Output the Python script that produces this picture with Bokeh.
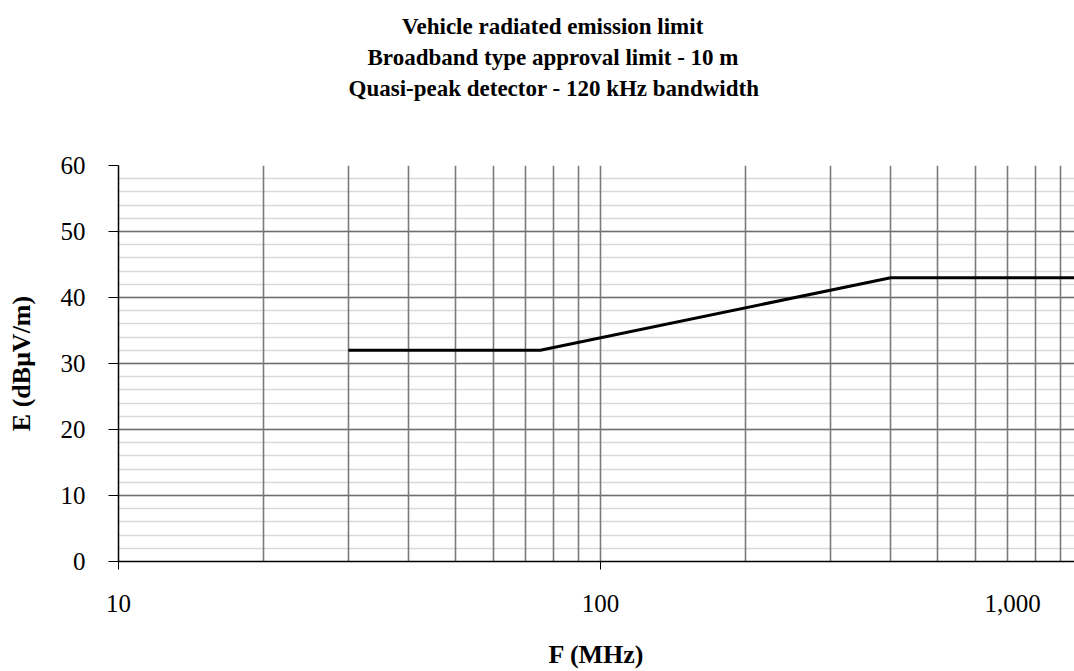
from bokeh.plotting import figure
from bokeh.models import (Range1d, FixedTicker, SingleIntervalTicker, Title, LogAxis)
from bokeh.embed import file_html
from bokeh.resources import INLINE

# ---- data ----
freq_mhz = [30, 75, 400, 1000]
limit_dbuv = [32, 32, 43, 43]
x_major_ticks = [10, 100]
x_label_positions = [10, 100, 716]      # 1,000 label sits left of its (off-frame) tick
x_tick_labels = {10: "10", 100: "100", 716: "1,000"}
x_grid_lines = [20, 30, 40, 50, 60, 70, 80, 90, 100,
                200, 300, 400, 500, 600, 700, 800, 900]
y_ticks = [0, 10, 20, 30, 40, 50, 60]
title_lines = ["Vehicle radiated emission limit",
               "Broadband type approval limit - 10 m",
               "Quasi-peak detector - 120 kHz bandwidth"]

SERIF = "Liberation Serif"
W, H = 1074, 671
LEFT, BOTTOM, TOP = 118, 110, 165
DECADE_PX = 482.0
frame_w = W - LEFT
x_end = 10 ** (1 + frame_w / DECADE_PX)

# title block is centred at x ~552 px; approximate rendered widths of each line
TITLE_CENTER = 552
title_widths = [301, 370, 408]

p = figure(width=W, height=H, x_axis_type="log",
           x_range=Range1d(10, x_end), y_range=Range1d(0, 60),
           output_backend="svg", toolbar_location=None,
           min_border_left=LEFT, min_border_right=0,
           min_border_bottom=BOTTOM, min_border_top=TOP)
p.outline_line_color = None
p.background_fill_color = "white"
p.border_fill_color = "white"

# titles: p.title is outermost; added titles stack outward from the plot
def style_title(t, standoff, width=None):
    if width is None:
        t.align = "center"
    else:
        t.align = "left"
        t.offset = TITLE_CENTER - width / 2 - LEFT
    t.text_font = SERIF
    t.text_font_style = "bold"
    t.text_font_size = "23px"
    t.text_color = "black"
    t.standoff = standoff
    return t

p.title.text = title_lines[0]
style_title(p.title, 4, title_widths[0])
# spacer between the title block and the plot frame
p.add_layout(style_title(Title(text=" "), 36), "above")
p.add_layout(style_title(Title(text=title_lines[2]), 4, title_widths[2]), "above")
p.add_layout(style_title(Title(text=title_lines[1]), 4, title_widths[1]), "above")

# grids: horizontal first, vertical on top
xg = p.xgrid[0]
yg = p.ygrid[0]
xg.ticker = FixedTicker(ticks=x_grid_lines)
xg.grid_line_color = "#7a7a7a"
xg.grid_line_width = 1.6
yg.ticker = SingleIntervalTicker(interval=10, num_minor_ticks=5)
yg.grid_line_color = "#6e6e6e"
yg.grid_line_width = 1.4
yg.minor_grid_line_color = "#d9d9d9"
yg.minor_grid_line_width = 1.6
p.center = [yg, xg]

# x axis 1: line and tick marks only
xa = p.xaxis[0]
xa.ticker = FixedTicker(ticks=x_major_ticks)
xa.major_label_overrides = {10: "", 100: ""}
xa.major_label_text_font_size = "1px"
xa.major_label_standoff = 0
xa.minor_tick_line_color = None
xa.major_tick_out = 8
xa.major_tick_in = 0
xa.major_tick_line_color = "black"
xa.axis_line_color = "black"
xa.axis_line_width = 1.5

# x axis 2: tick labels and axis title
xa2 = LogAxis(ticker=FixedTicker(ticks=x_label_positions),
              major_label_overrides=x_tick_labels,
              axis_line_color=None, major_tick_line_color=None,
              minor_tick_line_color=None, major_tick_out=0, major_tick_in=0)
xa2.major_label_standoff = 25
xa2.major_label_text_font = SERIF
xa2.major_label_text_font_size = "25px"
xa2.major_label_text_color = "black"
xa2.axis_label = "F (MHz)"
xa2.axis_label_text_font = SERIF
xa2.axis_label_text_font_style = "bold"
xa2.axis_label_text_font_size = "26px"
xa2.axis_label_standoff = 25
xa2.axis_label_text_color = "black"
p.add_layout(xa2, "below")

# y axis
ya = p.yaxis[0]
ya.ticker = FixedTicker(ticks=y_ticks)
ya.minor_tick_line_color = None
ya.major_tick_out = 10
ya.major_tick_in = 0
ya.major_tick_line_color = "black"
ya.axis_line_color = "black"
ya.axis_line_width = 1.5
ya.major_label_standoff = 23
ya.major_label_text_font = SERIF
ya.major_label_text_font_size = "25px"
ya.major_label_text_color = "black"
ya.axis_label = "E (dBμV/m)"
ya.axis_label_text_font = SERIF
ya.axis_label_text_font_style = "bold"
ya.axis_label_text_font_size = "26px"
ya.axis_label_standoff = 22
ya.axis_label_text_color = "black"

# limit line
p.line(freq_mhz, limit_dbuv, line_color="black", line_width=3)

open("out.html", "w").write(file_html(p, INLINE))
